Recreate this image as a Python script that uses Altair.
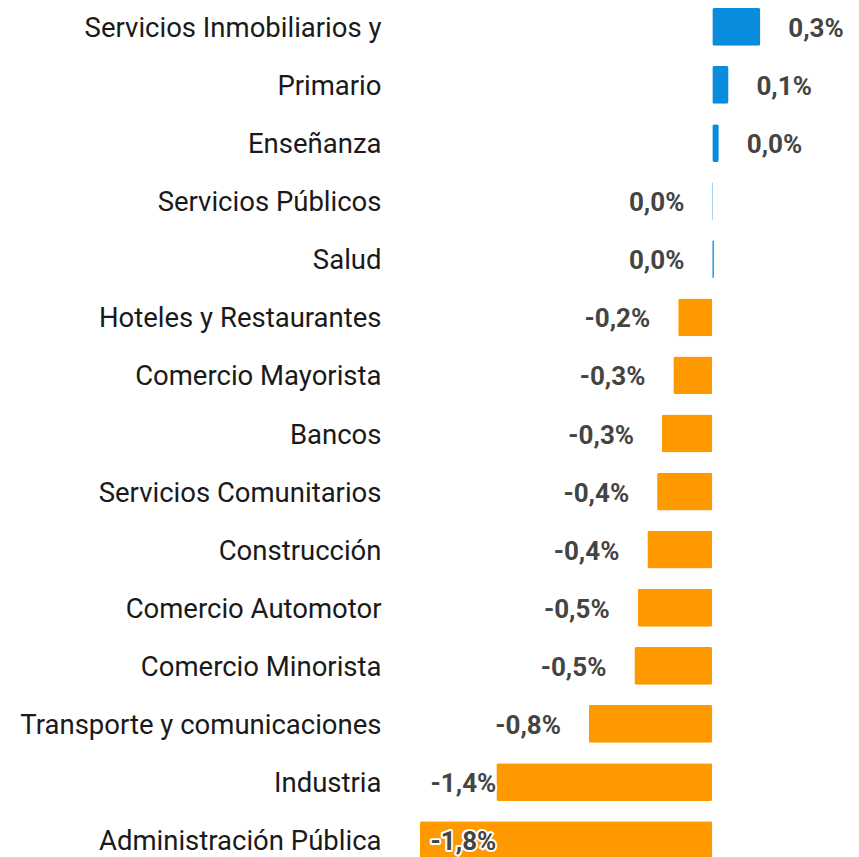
import altair as alt
import pandas as pd

categories = [
    "Servicios Inmobiliarios y", "Primario", "Enseñanza", "Servicios Públicos", "Salud",
    "Hoteles y Restaurantes", "Comercio Mayorista", "Bancos", "Servicios Comunitarios",
    "Construcción", "Comercio Automotor", "Comercio Minorista",
    "Transporte y comunicaciones", "Industria", "Administración Pública",
]
values = [0.296, 0.10, 0.04, 0.005, 0.01, -0.21, -0.24, -0.31, -0.34, -0.40,
          -0.46, -0.48, -0.76, -1.33, -1.80]
labels = ["0,3%", "0,1%", "0,0%", "0,0%", "0,0%", "-0,2%", "-0,3%", "-0,3%", "-0,4%",
          "-0,4%", "-0,5%", "-0,5%", "-0,8%", "-1,4%", "-1,8%"]

df = pd.DataFrame({"cat": categories, "value": values, "label": labels})

FONT = "Roboto"

y = alt.Y("cat:N", sort=categories, title=None,
          scale=alt.Scale(paddingInner=0.35, paddingOuter=0),
          axis=alt.Axis(domain=False, ticks=False, labelFont=FONT, labelFontSize=27.5,
                        labelColor="#1a1a1a", labelPadding=39, labelLimit=500,
                        labelOffset=2))
xscale = alt.Scale(domain=[-1.8, 0.3], nice=False, zero=True)

bars = alt.Chart(df).mark_bar(cornerRadius=2).encode(
    x=alt.X("value:Q", scale=xscale, axis=None),
    y=y,
    color=alt.condition("datum.value >= 0", alt.value("#0A8CDC"), alt.value("#FF9900")),
)

base_text = alt.Chart(df).transform_calculate(
    right="datum.value >= 0.03",
    pos="datum.value >= 0.03 ? datum.value + 0.172 : max(min(datum.value, 0) - 0.172, -1.33)",
)

text_right = base_text.transform_filter("datum.right").mark_text(
    align="left", baseline="middle", font=FONT, fontSize=26, fontWeight="bold",
    color="#444444", dy=2,
).encode(x=alt.X("pos:Q", scale=xscale), y=alt.Y("cat:N", sort=categories), text="label:N")

text_left_halo = base_text.transform_filter("!datum.right").mark_text(
    align="right", baseline="middle", font=FONT, fontSize=26, fontWeight="bold",
    stroke="white", strokeWidth=4, strokeJoin="round", color="white", dy=2,
).encode(x=alt.X("pos:Q", scale=xscale), y=alt.Y("cat:N", sort=categories), text="label:N")

text_left = base_text.transform_filter("!datum.right").mark_text(
    align="right", baseline="middle", font=FONT, fontSize=26, fontWeight="bold",
    color="#444444", dy=2,
).encode(x=alt.X("pos:Q", scale=xscale), y=alt.Y("cat:N", sort=categories), text="label:N")

chart = alt.layer(bars, text_right, text_left_halo, text_left).properties(
    width=341, height=851,
    autosize=alt.AutoSizeParams(type="none"),
    padding={"left": 412, "top": 0, "right": 90, "bottom": 0},
).configure_view(stroke=None)

chart.save("out.html", embed_options={"renderer": "svg", "actions": False})
